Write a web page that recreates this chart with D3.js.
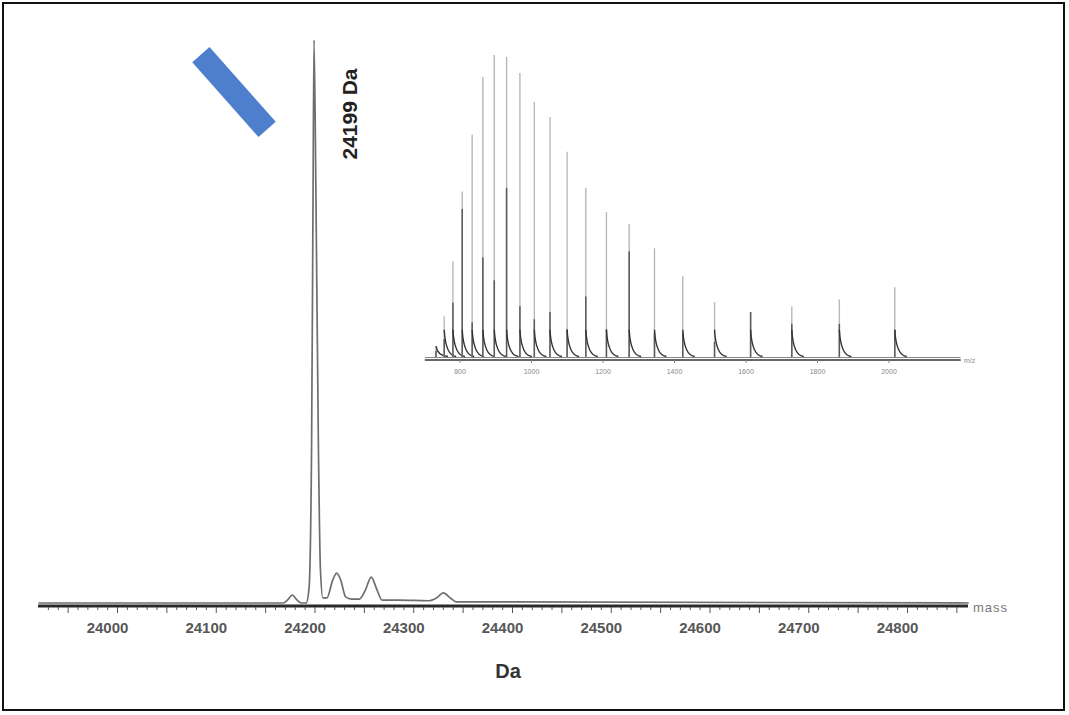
<!DOCTYPE html>
<html><head><meta charset="utf-8">
<script src="https://cdn.jsdelivr.net/npm/d3@7"></script>
<style>html,body{margin:0;padding:0;background:#fff;}svg{display:block;font-family:"Liberation Sans",Arial,sans-serif;}</style>
</head><body>
<svg id="c" width="1069" height="715"></svg>
<script>
// ---- Main deconvoluted spectrum (mass in Da, relative intensity %) ----
const mainMass = [23920,24168,24172,24177,24182,24186,24191,24194,24196.5,24198,24199,24201,24203.5,24205.5,24208,24212,24218,24222,24226,24231,24237,24245,24251,24257,24262,24268,24285,24315,24323,24330,24337,24343,24365,24862];
const mainInt  = [0,0,0.5,1.4,0.5,0,0,2.7,27,71.6,100,71.6,27,5.9,0.9,0.9,4.1,5.3,4.1,1.1,0.7,0.7,2.3,4.6,2.7,0.5,0.5,0.4,0.9,1.8,0.9,0.2,0.2,0];
const mainTicks = [24000,24100,24200,24300,24400,24500,24600,24700,24800];
const mainPeakLabel = "24199 Da";
const mainPeakMass = 24199;

// ---- Inset raw m/z spectrum (charge-state envelope) ----
const insetMz   = [734.3,757.2,781.6,807.6,835.4,865.3,897.3,931.7,969.0,1009.3,1053.1,1101.0,1153.3,1211.0,1274.6,1345.4,1424.5,1513.4,1614.3,1729.5,1862.5,2017.6];
const insetTop  = [3.6,13.5,31.7,54.8,73.6,92.7,100,99.3,94,84.5,79.5,68,56,48,44,36,26.7,18.2,14.9,16.8,19.1,23.1];
const insetDark = [2,6,18,49,11.5,33,25.4,56,16.8,12.5,14.9,9.2,20,9.2,35,8,8,5,14.9,11,11,9];
const insetTicks = [800,1000,1200,1400,1600,1800,2000];

const svg = d3.select("#c");

// frame
svg.append("rect").attr("x",3).attr("y",3).attr("width",1061).attr("height",707)
  .attr("fill","none").attr("stroke","#111").attr("stroke-width",2);

// ---------- main plot ----------
const x = d3.scaleLinear().domain([24000,24800]).range([117.5,907.5]);
const y = d3.scaleLinear().domain([0,100]).range([603,40]);
const xMin = x.invert(38), xMax = x.invert(968);

// axis line
svg.append("line").attr("x1",38).attr("x2",968).attr("y1",606).attr("y2",606)
  .attr("stroke","#2a2a2a").attr("stroke-width",3);
// minor / major ticks
const minor = d3.range(23930,24860,10);
const gT = svg.append("g");
gT.selectAll("line").data(minor).join("line")
  .attr("x1",d=>x(d)).attr("x2",d=>x(d)).attr("y1",607)
  .attr("y2",d=> d%50===0 ? 613 : 610)
  .attr("stroke","#555").attr("stroke-width",1);
// tick labels
const xAxis = d3.axisBottom(x).tickValues(mainTicks).tickFormat(d3.format("d")).tickSize(0).tickPadding(0);
const gx = svg.append("g").attr("transform","translate(0,606)").call(xAxis);
gx.select(".domain").remove();
gx.selectAll("text").attr("y",22).attr("dx",-10.5).attr("dy","0.32em").attr("font-size",15)
  .attr("fill","#3a3a3a").attr("font-family","'Liberation Sans',Arial,sans-serif").attr("font-weight","bold").attr("opacity",0.85);
svg.append("text").attr("x",973).attr("y",612).attr("font-size",13).attr("letter-spacing",1).attr("fill","#777").text("mass");
svg.append("text").attr("x",508).attr("y",678).attr("text-anchor","middle").attr("font-size",20)
  .attr("font-weight","bold").attr("fill","#333").text("Da");

// trace
const line = d3.line().x((d,i)=>x(mainMass[i])).y((d,i)=>y(mainInt[i])).curve(d3.curveMonotoneX);
svg.append("path").datum(mainMass).attr("d",line).attr("fill","none")
  .attr("stroke","#6e6e6e").attr("stroke-width",1.7).attr("stroke-linejoin","round");

// peak label
svg.append("text").attr("transform",`translate(${x(mainPeakMass)+36},114) rotate(-90)`)
  .attr("text-anchor","middle").attr("dy","0.35em").attr("font-size",21).attr("font-weight","bold")
  .attr("fill","#222").text(mainPeakLabel);

// blue marker
svg.append("rect").attr("x",-50).attr("y",-11.5).attr("width",100).attr("height",23)
  .attr("transform","translate(234,92) rotate(48.5)").attr("fill","#4d7fcc");

// ---------- inset ----------
const xi = d3.scaleLinear().domain([800,2000]).range([459.5,888.5]);
const yi = d3.scaleLinear().domain([0,100]).range([357,55]);
const mzMin = 703, mzMax = 2202;

svg.append("line").attr("x1",xi(mzMin)).attr("x2",xi(mzMax)).attr("y1",360).attr("y2",360)
  .attr("stroke","#333").attr("stroke-width",1.5);
svg.append("line").attr("x1",xi(mzMin)).attr("x2",xi(mzMax)).attr("y1",357.5).attr("y2",357.5)
  .attr("stroke","#888").attr("stroke-width",1);
const xiAxis = d3.axisBottom(xi).tickValues(insetTicks).tickFormat(d3.format("d")).tickSize(3);
const gxi = svg.append("g").attr("transform","translate(0,360)").call(xiAxis);
gxi.select(".domain").remove();
gxi.selectAll("line").attr("stroke","#888");
gxi.selectAll("text").attr("font-size",7).attr("fill","#888").attr("y",9);
svg.append("text").attr("x",964).attr("y",363).attr("font-size",7).attr("fill","#888").text("m/z");

const gp = svg.append("g");
insetMz.forEach((mz,i)=>{
  const px = xi(mz);
  gp.append("line").attr("x1",px).attr("x2",px).attr("y1",yi(0)).attr("y2",yi(insetTop[i]))
    .attr("stroke","#b8b8b8").attr("stroke-width",1.4);
  gp.append("line").attr("x1",px).attr("x2",px).attr("y1",yi(0)).attr("y2",yi(insetDark[i]))
    .attr("stroke","#5a5a5a").attr("stroke-width",1.5);
  // tailing shoulder
  const h = Math.min(insetTop[i],9);
  gp.append("path")
    .attr("d",`M${px},${yi(h)} Q${px+1.5},${yi(0)-1} ${px+12},${yi(0)-0.5}`)
    .attr("fill","none").attr("stroke","#333").attr("stroke-width",1.4);
});
</script>
</body></html>
